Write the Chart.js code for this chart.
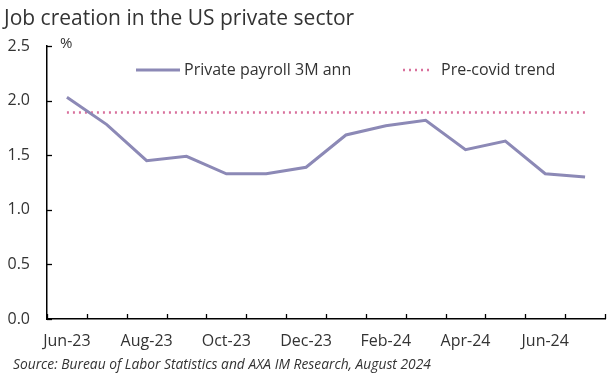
<!DOCTYPE html>
<html><head><meta charset="utf-8">
<script src="https://cdn.jsdelivr.net/npm/chart.js@4"></script>
<style>html,body{margin:0;padding:0;background:#fff}#wrap{width:615px;height:379px;position:relative}</style>
</head><body><div id="wrap"><canvas id="c" width="615" height="379"></canvas></div>
<script>
const categories = ["Jun-23","Jul-23","Aug-23","Sep-23","Oct-23","Nov-23","Dec-23","Jan-24","Feb-24","Mar-24","Apr-24","May-24","Jun-24","Jul-24"];
const payroll3M = [2.03,1.78,1.45,1.49,1.33,1.33,1.39,1.685,1.77,1.82,1.55,1.63,1.33,1.30];
const precovidTrend = [1.89,1.89,1.89,1.89,1.89,1.89,1.89,1.89,1.89,1.89,1.89,1.89,1.89,1.89];
const yTicks = [0.0,0.5,1.0,1.5,2.0,2.5];
const seriesNames = ["Private payroll 3M ann","Pre-covid trend"];
const titleText = "Job creation in the US private sector";
const sourceText = "Source: Bureau of Labor Statistics and AXA IM Research, August 2024";

const FONT = "'Open Sans', sans-serif";
const TXT = '#333';
const C1 = '#8c89b6', C2 = '#d9719d';

const decor = {
  id:'decor',
  afterDraw(chart){
    const ctx = chart.ctx, a = chart.chartArea;
    const xs = chart.scales.x, ys = chart.scales.y;
    ctx.save();
    ctx.strokeStyle = '#000'; ctx.lineWidth = 1.3;
    const n = categories.length;
    const step = xs.getPixelForValue(1)-xs.getPixelForValue(0);
    for(let i=0;i<=n;i++){
      const px = i<n ? xs.getPixelForValue(i) - step/2 : a.right;
      ctx.beginPath(); ctx.moveTo(Math.round(px)+0.5, a.bottom); ctx.lineTo(Math.round(px)+0.5, a.bottom-5); ctx.stroke();
    }
    yTicks.forEach(v=>{
      const py = ys.getPixelForValue(v);
      ctx.beginPath(); ctx.moveTo(a.left, Math.round(py)+0.5); ctx.lineTo(a.left+5, Math.round(py)+0.5); ctx.stroke();
    });
    ctx.fillStyle = TXT; ctx.textBaseline = 'alphabetic'; ctx.textAlign='left';
    ctx.font = "21px " + FONT;
    ctx.fillText(titleText, 4, 25);
    ctx.font = "15px " + FONT;
    ctx.fillText("%", 60, 48);
    const ly = 70;
    ctx.strokeStyle = C1; ctx.lineWidth = 3; ctx.setLineDash([]);
    ctx.beginPath(); ctx.moveTo(136, ly); ctx.lineTo(180, ly); ctx.stroke();
    ctx.textBaseline = 'middle';
    ctx.font = "16px " + FONT;
    ctx.fillText(seriesNames[0], 184, ly);
    ctx.strokeStyle = C2; ctx.lineWidth = 2.5; ctx.setLineDash([2,4]);
    ctx.beginPath(); ctx.moveTo(403, ly); ctx.lineTo(432, ly); ctx.stroke();
    ctx.setLineDash([]);
    ctx.fillText(seriesNames[1], 441, ly);
    ctx.font = "italic 13.8px " + FONT;
    ctx.textBaseline = 'alphabetic';
    ctx.fillText(sourceText, 13, 369);
    ctx.restore();
  }
};

new Chart(document.getElementById('c'), {
  type:'line',
  data:{
    labels: categories,
    datasets:[
      {label:seriesNames[0], data:payroll3M, borderColor:C1, borderWidth:3, pointRadius:0, tension:0, order:1},
      {label:seriesNames[1], data:precovidTrend, borderColor:C2, borderWidth:2.5, borderDash:[2,4], borderCapStyle:'butt', pointRadius:0, order:2}
    ]
  },
  options:{
    responsive:false, animation:false,
    layout:{padding:{top:46,right:10,left:0,bottom:0}},
    plugins:{legend:{display:false}, tooltip:{enabled:false}, title:{display:false}},
    scales:{
      x:{
        offset:true,
        grid:{display:false, drawTicks:false},
        border:{color:'#000', width:1.5},
        ticks:{autoSkip:false, maxRotation:0, padding:13, color:TXT, font:{family:FONT,size:16},
          callback:(v,i)=> i%2===0 ? categories[i] : ''},
        afterFit(s){ s.height = 60; }
      },
      y:{
        min:0, max:2.5,
        afterBuildTicks(s){ s.ticks = yTicks.map(v=>({value:v})); },
        grid:{display:false, drawTicks:false},
        border:{color:'#000', width:1.5},
        ticks:{padding:17, color:TXT, font:{family:FONT,size:16}, callback:v=>v.toFixed(1)},
        afterFit(s){ s.width = 47; }
      }
    }
  },
  plugins:[decor]
});
</script></body></html>
